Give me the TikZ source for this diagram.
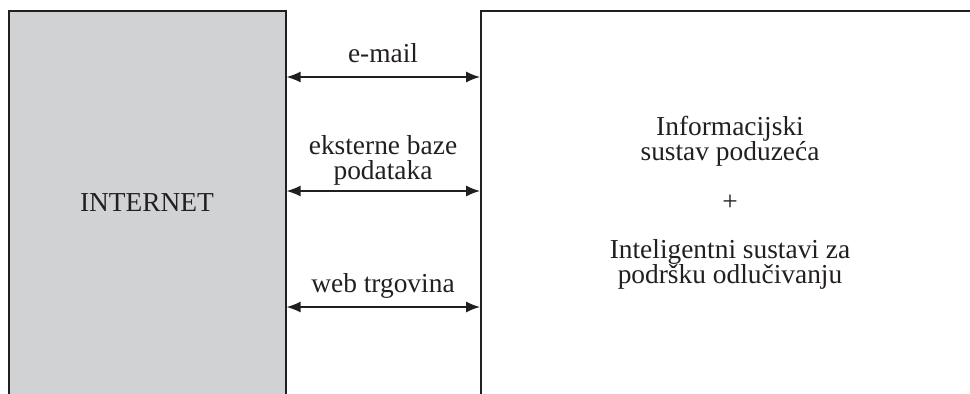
\documentclass[tikz,border=0pt]{standalone}
\usepackage{fontspec}
\setmainfont{Liberation Serif}
\usetikzlibrary{arrows.meta,positioning}
\definecolor{sivo}{HTML}{D1D2D4}
\definecolor{tinta}{HTML}{231F20}

\begin{document}
\begin{tikzpicture}[x=0.5pt,y=-0.5pt,
  okvir/.style={draw=tinta, line width=0.8pt, inner sep=0pt, anchor=north west},
  dvosmjer/.style={{Latex[length=7pt,width=5.5pt]}-{Latex[length=7pt,width=5.5pt]}, draw=tinta, line width=0.65pt},
  natpis/.style={text=tinta, font=\fontsize{13.7}{12.5}\selectfont, align=center, inner sep=0pt}]
  \useasboundingbox (0,0) rectangle (970,393);

  % okviri (dno i desni rub izlaze iz slike)
  \node[okvir, fill=sivo, minimum width=138.5pt, minimum height=205pt] (internet) at (8,10) {};
  \node[okvir, fill=white, minimum width=260pt, minimum height=205pt] (sustav) at (480,10) {};
  \node[natpis] (lint) at (147,203) {INTERNET};
  \node[natpis] (lsustav) at (730,203) {Informacijski\\ sustav poduzeća\\[12.5pt] +\\[11.5pt] Inteligentni sustavi za\\ podršku odlučivanju};

  % veze
  \foreach \y/\ime in {77/mail,191/baze,307/web} {
    \coordinate (\ime) at (383,\y);
    \draw[dvosmjer] (internet.east |- \ime) -- (sustav.west |- \ime);
  }
  \node[natpis, above=7pt of mail] (lmail) {e-mail};
  \node[natpis, above=2.5pt of baze] (lbaze) {eksterne baze\\ podataka};
  \node[natpis, above=4pt of web] (lweb) {web trgovina};
\end{tikzpicture}
\end{document}
